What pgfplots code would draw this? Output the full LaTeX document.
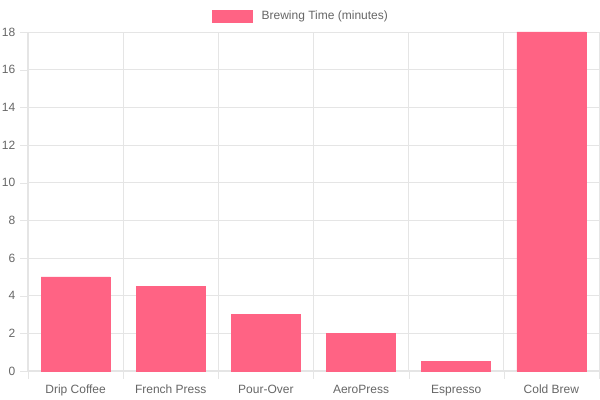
\documentclass[border=0pt]{standalone}
\usepackage{pgfplots}
\pgfplotsset{compat=1.18}
\usepackage{fontspec}
\setmainfont{Liberation Sans}
\definecolor{barpink}{RGB}{255,99,132}
\definecolor{txtgray}{RGB}{102,102,102}
\definecolor{gridgray}{RGB}{229,229,229}
\begin{document}
\begin{tikzpicture}
\useasboundingbox (-21pt,-21.75pt) rectangle (429pt,278.25pt);
\begin{axis}[
    at={(0,0)}, anchor=south west,
    scale only axis,
    width=428.25pt, height=254.25pt,
    xmin=-0.5, xmax=5.5,
    ymin=0, ymax=18,
    ytick={0,2,...,18},
    xtick={0,...,5},
    xticklabels={Drip Coffee,French Press,Pour-Over,AeroPress,Espresso,Cold Brew},
    minor xtick={-0.5,0.5,...,5.5},
    major x tick style={draw=none},
    minor x tick style={draw=gridgray},
    minor x grid style={draw=gridgray, line width=0.6pt},
    xminorgrids=true,
    ymajorgrids=true,
    major y grid style={draw=gridgray, line width=0.6pt},
    y tick style={draw=gridgray},
    tick align=outside,
    major tick length=6pt,
    minor tick length=6pt,
    axis line style={draw=gridgray, line width=0.8pt},
    axis x line*=bottom, axis y line*=left,
    tick label style={font=\fontsize{9}{11}\selectfont, text=txtgray},
    xticklabel style={yshift=-1pt},
    /pgf/number format/assume math mode=true,
    legend style={at={(0.4755,1)}, anchor=center, xshift=1.5pt, yshift=12pt, draw=none, fill=none,
        font=\fontsize{9}{11}\selectfont, text=txtgray},
    legend image code/.code={\fill[barpink] (0pt,-4.5pt) rectangle (30pt,4.5pt);
        \path (34.5pt,0pt);},
]
\addplot[ybar, bar width=51.75pt, fill=barpink, draw=barpink] coordinates {
    (0,5) (1,4.5) (2,3) (3,2) (4,0.5) (5,18)
};
\addlegendentry{Brewing Time (minutes)}
\end{axis}
\end{tikzpicture}
\end{document}
